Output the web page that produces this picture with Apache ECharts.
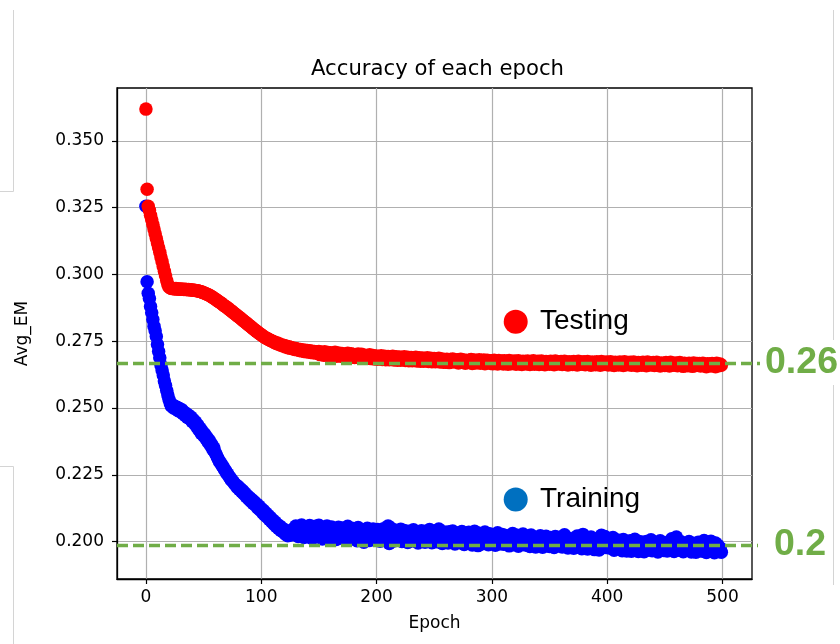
<!DOCTYPE html>
<html><head><meta charset="utf-8">
<script src="https://cdn.jsdelivr.net/npm/echarts@6/dist/echarts.min.js"></script>
<style>html,body{margin:0;padding:0;background:#fff}#c{width:840px;height:644px}</style>
</head><body><div id="c"></div>
<script>
// Testing accuracy (Avg_EM) per epoch 0..499
const testing = [
0.3619,0.3319,0.3255,0.3240,0.3222,0.3205,0.3187,0.3170,0.3152,0.3135,
0.3118,0.3100,0.3083,0.3065,0.3048,0.3030,0.3012,0.2995,0.2977,0.2962,
0.2953,0.2950,0.2948,0.2947,0.2947,0.2946,0.2947,0.2946,0.2946,0.2945,
0.2946,0.2945,0.2945,0.2944,0.2945,0.2944,0.2943,0.2944,0.2943,0.2942,
0.2942,0.2941,0.2941,0.2940,0.2939,0.2939,0.2937,0.2936,0.2935,0.2933,
0.2932,0.2930,0.2928,0.2926,0.2924,0.2922,0.2919,0.2917,0.2914,0.2911,
0.2908,0.2905,0.2902,0.2899,0.2896,0.2893,0.2890,0.2886,0.2883,0.2880,
0.2877,0.2874,0.2870,0.2867,0.2863,0.2860,0.2857,0.2853,0.2850,0.2846,
0.2843,0.2840,0.2836,0.2832,0.2829,0.2825,0.2822,0.2818,0.2815,0.2811,
0.2808,0.2804,0.2801,0.2797,0.2794,0.2790,0.2787,0.2784,0.2780,0.2777,
0.2774,0.2771,0.2768,0.2765,0.2762,0.2760,0.2758,0.2756,0.2753,0.2751,
0.2750,0.2746,0.2746,0.2742,0.2743,0.2739,0.2740,0.2735,0.2736,0.2732,
0.2734,0.2729,0.2731,0.2726,0.2729,0.2724,0.2727,0.2722,0.2724,0.2719,
0.2723,0.2718,0.2720,0.2715,0.2719,0.2714,0.2717,0.2712,0.2716,0.2711,
0.2715,0.2710,0.2714,0.2708,0.2713,0.2707,0.2712,0.2706,0.2711,0.2705,
0.2712,0.2700,0.2709,0.2703,0.2698,0.2711,0.2702,0.2697,0.2708,0.2700,
0.2707,0.2696,0.2705,0.2699,0.2709,0.2694,0.2703,0.2706,0.2695,0.2701,
0.2704,0.2692,0.2701,0.2697,0.2690,0.2705,0.2693,0.2699,0.2703,0.2691,
0.2700,0.2689,0.2698,0.2692,0.2702,0.2688,0.2696,0.2701,0.2687,0.2694,
0.2698,0.2686,0.2695,0.2690,0.2699,0.2685,0.2693,0.2697,0.2684,0.2691,
0.2695,0.2683,0.2692,0.2687,0.2696,0.2682,0.2690,0.2694,0.2681,0.2688,
0.2693,0.2681,0.2690,0.2685,0.2694,0.2680,0.2688,0.2692,0.2679,0.2686,
0.2691,0.2679,0.2688,0.2683,0.2692,0.2678,0.2686,0.2690,0.2677,0.2684,
0.2689,0.2677,0.2686,0.2681,0.2690,0.2676,0.2684,0.2688,0.2675,0.2682,
0.2687,0.2675,0.2684,0.2679,0.2688,0.2674,0.2682,0.2686,0.2673,0.2680,
0.2685,0.2673,0.2682,0.2677,0.2686,0.2672,0.2680,0.2684,0.2671,0.2678,
0.2671,0.2683,0.2676,0.2670,0.2682,0.2678,0.2684,0.2672,0.2679,0.2674,
0.2681,0.2669,0.2677,0.2683,0.2671,0.2675,0.2680,0.2668,0.2678,0.2673,
0.2679,0.2670,0.2682,0.2667,0.2676,0.2680,0.2669,0.2677,0.2672,0.2681,
0.2668,0.2678,0.2671,0.2680,0.2666,0.2675,0.2679,0.2670,0.2677,0.2667,
0.2677,0.2666,0.2679,0.2670,0.2675,0.2665,0.2678,0.2672,0.2668,0.2676,
0.2665,0.2677,0.2669,0.2674,0.2664,0.2678,0.2670,0.2666,0.2675,0.2668,
0.2676,0.2664,0.2672,0.2677,0.2666,0.2671,0.2663,0.2675,0.2669,0.2674,
0.2665,0.2676,0.2668,0.2663,0.2674,0.2670,0.2677,0.2664,0.2672,0.2667,
0.2675,0.2663,0.2670,0.2676,0.2665,0.2672,0.2662,0.2674,0.2668,0.2671,
0.2664,0.2675,0.2667,0.2672,0.2662,0.2676,0.2669,0.2665,0.2673,0.2666,
0.2674,0.2663,0.2670,0.2675,0.2664,0.2669,0.2661,0.2673,0.2667,0.2671,
0.2663,0.2674,0.2666,0.2671,0.2661,0.2675,0.2668,0.2664,0.2672,0.2665,
0.2673,0.2662,0.2669,0.2674,0.2663,0.2668,0.2660,0.2672,0.2666,0.2670,
0.2662,0.2673,0.2665,0.2670,0.2660,0.2674,0.2667,0.2663,0.2671,0.2664,
0.2672,0.2661,0.2668,0.2673,0.2662,0.2667,0.2659,0.2671,0.2665,0.2669,
0.2661,0.2672,0.2664,0.2669,0.2659,0.2673,0.2666,0.2662,0.2670,0.2663,
0.2671,0.2660,0.2667,0.2672,0.2661,0.2666,0.2658,0.2670,0.2664,0.2668,
0.2660,0.2671,0.2663,0.2668,0.2658,0.2672,0.2665,0.2661,0.2669,0.2662,
0.2670,0.2659,0.2666,0.2671,0.2660,0.2665,0.2657,0.2669,0.2663,0.2667,
0.2659,0.2670,0.2662,0.2667,0.2657,0.2671,0.2664,0.2660,0.2668,0.2661,
0.2669,0.2658,0.2665,0.2670,0.2659,0.2664,0.2656,0.2668,0.2662,0.2666,
0.2658,0.2668,0.2661,0.2666,0.2656,0.2669,0.2663,0.2659,0.2667,0.2660,
0.2667,0.2657,0.2664,0.2668,0.2658,0.2663,0.2655,0.2666,0.2661,0.2665,
0.2657,0.2667,0.2660,0.2664,0.2655,0.2668,0.2662,0.2658,0.2665,0.2660
];
// Training accuracy (Avg_EM) per epoch 0..499
const training = [
0.3255,0.2973,0.2930,0.2910,0.2880,0.2857,0.2831,0.2806,0.2789,0.2768,
0.2738,0.2712,0.2688,0.2661,0.2642,0.2624,0.2601,0.2584,0.2566,0.2549,
0.2532,0.2519,0.2508,0.2512,0.2500,0.2507,0.2496,0.2503,0.2490,0.2498,
0.2486,0.2494,0.2480,0.2485,0.2472,0.2479,0.2465,0.2473,0.2460,0.2466,
0.2450,0.2457,0.2442,0.2448,0.2430,0.2436,0.2418,0.2424,0.2405,0.2412,
0.2396,0.2402,0.2385,0.2390,0.2372,0.2378,0.2360,0.2364,0.2345,0.2350,
0.2333,0.2325,0.2315,0.2306,0.2298,0.2293,0.2284,0.2280,0.2270,0.2266,
0.2256,0.2253,0.2244,0.2240,0.2231,0.2228,0.2222,0.2216,0.2212,0.2204,
0.2206,0.2195,0.2198,0.2187,0.2190,0.2178,0.2181,0.2168,0.2172,0.2160,
0.2164,0.2151,0.2157,0.2143,0.2149,0.2136,0.2141,0.2126,0.2133,0.2118,
0.2124,0.2109,0.2116,0.2100,0.2107,0.2092,0.2099,0.2083,0.2090,0.2074,
0.2081,0.2065,0.2073,0.2057,0.2064,0.2049,0.2058,0.2042,0.2051,0.2036,
0.2044,0.2028,0.2036,0.2022,0.2033,0.2024,0.2042,0.2029,0.2048,0.2032,
0.2058,0.2041,0.2019,0.2050,0.2027,0.2062,0.2035,0.2015,0.2053,0.2030,
0.2046,0.2021,0.2060,0.2038,0.2012,0.2049,0.2030,0.2057,0.2018,0.2042,
0.2061,0.2026,0.2045,0.2010,0.2052,0.2034,0.2019,0.2058,0.2029,0.2040,
0.2013,0.2055,0.2032,0.2020,0.2047,0.2008,0.2039,0.2054,0.2024,0.2035,
0.2051,0.2017,0.2043,0.2006,0.2036,0.2057,0.2022,0.2011,0.2046,0.2030,
0.2049,0.2014,0.2038,0.2003,0.2053,0.2025,0.2009,0.2044,0.2031,0.1998,
0.2041,0.2016,0.2050,0.2027,0.2004,0.2039,0.2019,0.2047,0.2010,0.2033,
0.2007,0.2045,0.2023,0.2001,0.2036,0.2015,0.2048,0.2026,0.2005,0.2040,
0.2058,0.1993,0.2052,0.2018,0.2035,0.2002,0.2043,0.2024,0.2009,0.2038,
0.2013,0.2046,0.2000,0.2031,0.2042,0.2008,0.2027,0.1997,0.2039,0.2016,
0.2034,0.2003,0.2044,0.2021,0.2006,0.2037,0.1995,0.2028,0.2012,0.2041,
0.2005,0.2030,0.1998,0.2039,0.2019,0.2008,0.2045,0.2022,0.1996,0.2033,
0.2010,0.2040,0.1999,0.2026,0.2047,0.2007,0.2029,0.1993,0.2018,0.2036,
0.2002,0.2025,0.1995,0.2037,0.2013,0.2000,0.2040,0.2019,0.1991,0.2030,
0.2006,0.2032,0.1997,0.2016,0.2038,0.2004,0.1989,0.2027,0.2011,0.1999,
0.2035,0.2002,0.2015,0.1987,0.2024,0.2039,0.1996,0.2010,0.1985,0.2031,
0.2000,0.2020,0.1992,0.2008,0.2036,0.1997,0.2017,0.1988,0.2029,0.2004,
0.1994,0.2021,0.2003,0.1986,0.2016,0.2033,0.1991,0.2012,0.1999,0.2027,
0.1990,0.2011,0.2023,0.1995,0.2007,0.1984,0.2020,0.2002,0.2030,0.1988,
0.2010,0.1996,0.2024,0.1983,0.2005,0.2019,0.1993,0.2028,0.2001,0.1987,
0.2017,0.1995,0.2009,0.1982,0.2025,0.1992,0.2004,0.2014,0.1980,0.2000,
0.2013,0.1988,0.2022,0.1997,0.1979,0.2008,0.1993,0.2020,0.1985,0.2003,
0.1982,0.2015,0.1998,0.2007,0.1978,0.2019,0.1990,0.2002,0.1986,0.2016,
0.1994,0.1980,0.2009,0.2026,0.1988,0.2001,0.1976,0.2012,0.1985,0.1997,
0.2010,0.1975,0.2003,0.1992,0.2021,0.1984,0.1996,0.2008,0.1973,0.2027,
0.1998,0.1983,0.2006,0.1972,0.2002,0.1989,0.2017,0.1980,0.1995,0.1970,
0.2005,0.1986,0.1997,0.1969,0.2014,0.2024,0.1982,0.2001,0.2019,0.1978,
0.1993,0.2010,0.1976,0.2000,0.1984,0.2015,0.1968,0.1994,0.1981,0.2006,
0.1975,0.2001,0.1986,0.1966,0.2008,0.1979,0.1996,0.1965,0.1990,0.1972,
0.2003,0.1964,0.1988,0.1977,0.2009,0.1970,0.1994,0.1963,0.1985,0.1999,
0.1972,0.1991,0.1962,0.1983,0.2000,0.1969,0.1989,0.1976,0.2007,0.1966,
0.1985,0.1998,0.1971,0.1980,0.1961,0.1993,0.2003,0.1974,0.1987,0.1967,
0.1982,0.1996,0.1965,0.1978,0.1992,0.1973,0.2011,0.1986,0.1963,0.1995,
0.2017,0.1979,0.1990,0.1968,0.1999,0.1984,0.1962,0.1992,0.1975,0.1988,
0.1970,0.2000,0.1981,0.1961,0.1994,0.1976,0.1987,0.1960,0.1983,0.1998,
0.1966,0.1980,0.1993,0.1964,0.2004,0.1977,0.1959,0.1990,0.1971,0.1985,
0.2001,0.1967,0.1979,0.1958,0.1995,0.1974,0.1986,0.1963,0.1976,0.1960
];
const xTicks = [0, 100, 200, 300, 400, 500];
const yTicks = [0.200, 0.225, 0.250, 0.275, 0.300, 0.325, 0.350];
const refValues = [0.2667, 0.1985];
const refLabels = ['0.26', '0.2'];
const legendNames = ['Testing', 'Training'];
const legendColors = ['#ff0000', '#0070c0'];

const chart = echarts.init(document.getElementById('c'), null, {renderer: 'canvas'});
const tickFont = {fontFamily: 'DejaVu Sans', fontSize: 17, color: '#000'};
chart.setOption({
  animation: false,
  backgroundColor: '#fff',
  title: {
    text: 'Accuracy of each epoch', left: 306, top: 54,
    textStyle: {fontFamily: 'DejaVu Sans', fontSize: 21.2, fontWeight: 'normal', color: '#000'}
  },
  grid: {left: 117, top: 88, width: 635, height: 491, show: true, borderColor: '#000', borderWidth: 1.3, backgroundColor: 'transparent'},
  xAxis: {
    type: 'value', min: -25.1, max: 525.6,
    name: 'Epoch', nameLocation: 'middle', nameGap: 36,
    nameTextStyle: {fontFamily: 'DejaVu Sans', fontSize: 17, color: '#000'},
    axisLine: {show: true, onZero: false, lineStyle: {color: '#000', width: 1.3}},
    axisTick: {show: true, customValues: xTicks, length: 5, lineStyle: {color: '#000', width: 1.2}},
    axisLabel: Object.assign({customValues: xTicks, margin: 10}, tickFont),
    splitLine: {show: true, lineStyle: {color: '#b0b0b0', width: 1.2}}
  },
  yAxis: {
    type: 'value', min: 0.1860, max: 0.3698,
    name: 'Avg_EM', nameLocation: 'middle', nameGap: 86,
    nameTextStyle: {fontFamily: 'DejaVu Sans', fontSize: 17, color: '#000'},
    axisLine: {show: true, onZero: false, lineStyle: {color: '#000', width: 1.3}},
    axisTick: {show: true, customValues: yTicks, length: 5, lineStyle: {color: '#000', width: 1.2}},
    axisLabel: Object.assign({customValues: yTicks, margin: 13, formatter: v => v.toFixed(3)}, tickFont),
    splitLine: {show: true, lineStyle: {color: '#b0b0b0', width: 1.2}}
  },
  series: [
    {type: 'scatter', name: 'Training', data: training.map((v, i) => [i, v]), symbol: 'circle', symbolSize: 13.5,
     itemStyle: {color: '#0000ff', opacity: 1}, z: 2},
    {type: 'scatter', name: 'Testing', data: testing.map((v, i) => [i, v]), symbol: 'circle', symbolSize: 13.5,
     itemStyle: {color: '#ff0000', opacity: 1}, z: 3}
  ]
});

const gfx = [];
// faint slide-frame lines
const gray = {stroke: '#d4d4d4', lineWidth: 1};
gfx.push({type: 'polyline', shape: {points: [[13.5, 10], [13.5, 191.5], [0, 191.5]]}, style: Object.assign({fill: null}, gray), z: 1, silent: true});
gfx.push({type: 'polyline', shape: {points: [[0, 466.5], [13.5, 466.5], [13.5, 644]]}, style: Object.assign({fill: null}, gray), z: 1, silent: true});
gfx.push({type: 'line', shape: {x1: 833.5, y1: 10, x2: 833.5, y2: 340}, style: gray, z: 1, silent: true});
gfx.push({type: 'line', shape: {x1: 833.5, y1: 385, x2: 833.5, y2: 585}, style: gray, z: 1, silent: true});

const endX = [760, 758];
const labelX = [765, 774];
refValues.forEach((v, k) => {
  const y = chart.convertToPixel({gridIndex: 0}, [0, v])[1];
  gfx.push({type: 'line', z: 100, silent: true,
    shape: {x1: 117, y1: y, x2: endX[k], y2: y},
    style: {stroke: '#70ad47', lineWidth: 3.5, lineDash: [11, 5]}});
  gfx.push({type: 'text', z: 101, silent: true, x: labelX[k], y: y - 1,
    style: {text: refLabels[k], fill: '#70ad47', font: 'bold 37.5px "Liberation Sans", Arial, sans-serif', verticalAlign: 'middle', align: 'left'}});
});
const legendY = [321.7, 499.5];
legendNames.forEach((n, k) => {
  gfx.push({type: 'circle', z: 102, silent: true, shape: {cx: 515.7, cy: legendY[k], r: 12}, style: {fill: legendColors[k]}});
  gfx.push({type: 'text', z: 102, silent: true, x: 540, y: legendY[k],
    style: {text: n, fill: '#000', font: '28px "Liberation Sans", Arial, sans-serif', verticalAlign: 'middle', align: 'left'}});
});
chart.setOption({graphic: gfx});
</script>
</body></html>
